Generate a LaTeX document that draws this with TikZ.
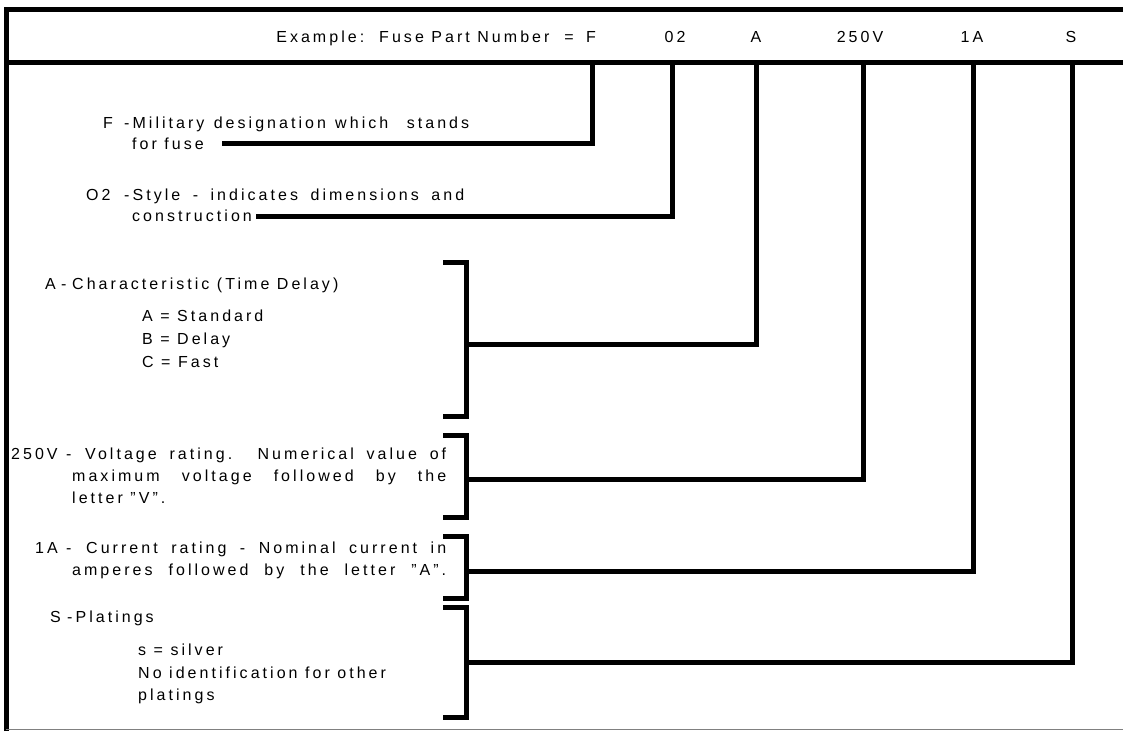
\documentclass[tikz,border=0pt]{standalone}
\usepackage{fontspec}
\setmainfont{Liberation Sans}[LetterSpace=19]
\usetikzlibrary{positioning}

\begin{document}
\begin{tikzpicture}[x=1pt,y=-1pt,
  txt/.style={anchor=base west,inner sep=0pt,font=\fontsize{16}{22}\selectfont},
  val/.style={anchor=base,inner sep=0pt,font=\fontsize{16}{22}\selectfont},
  rule/.style={line width=5pt},
  lead/.style={line width=5pt},
  brk/.style={line width=5pt}]
\useasboundingbox (0,0) rectangle (1123,731);
% frame
\draw[rule] (6,731) -- (6,9) -- (1123,9);
\draw[rule] (6,62) -- (1123,62);
\draw[gray,line width=1pt] (6,729) -- (1123,729);

% header
\node[val,anchor=base east] (hd) at (574,42) {Example:\ \ Fuse Part Number\ \ =};
\node[val] (vF) at (591,42) {F};
\node[val] (v02) at (675,42) {02};
\node[val] (vA) at (756,42) {A};
\node[val] (v250) at (860,42) {250V};
\node[val] (v1A) at (972,42) {1A};
\node[val] (vS) at (1071,42) {S};
\coordinate (tF) at (592,62);
\coordinate (t02) at (672,62);
\coordinate (tA) at (756,62);
\coordinate (t250) at (863,62);
\coordinate (t1A) at (973,62);
\coordinate (tS) at (1072,62);

% F and O2
\node[txt] (kF) at (103,128) {F};
\node[txt] (dF) at (124,128) {\makebox[345pt][s]{-Military designation which\ \ stands}};
\node[txt] (dF2) at (132,149) {for fuse};
\coordinate (eF) at (222,143);
\node[txt] (k02) at (86,200) {O2};
\node[txt] (d02) at (124,200) {\makebox[340pt][s]{-Style - indicates dimensions and}};
\node[txt] (d02b) at (132,221) {construction};
\coordinate (e02) at (256,216);

% A
\node[txt] (kA) at (45,289) {A};
\node[txt] (kAd) at (61,289) {-};
\node[txt] (dA) at (72,289) {Characteristic (Time Delay)};
\node[txt] (dA1) at (142,321) {A = Standard};
\node[txt] (dA2) at (142,344) {B = Delay};
\node[txt] (dA3) at (142,367) {C = Fast};

% 250V
\node[txt] (k250) at (11,459) {250V};
\node[txt] (k250d) at (66,459) {-};
\node[txt] (d250) at (85,459) {\makebox[361pt][s]{Voltage rating.\ \ Numerical value of}};
\node[txt] (d250b) at (72,481) {\makebox[374pt][s]{maximum voltage followed by the}};
\node[txt] (d250c) at (72,503) {letter "V".};

% 1A
\node[txt] (k1A) at (35,553) {1A};
\node[txt] (k1Ad) at (66,553) {-};
\node[txt] (d1A) at (86,553) {\makebox[360pt][s]{Current rating - Nominal current in}};
\node[txt] (d1Ab) at (72,575) {\makebox[374pt][s]{amperes followed by the letter "A".}};

% S
\node[txt] (kS) at (50,622) {S};
\node[txt] (dS) at (67,622) {-Platings};
\node[txt] (dS1) at (138,655) {s = silver};
\node[txt] (dS2) at (138,678) {No identification for other};
\node[txt] (dS3) at (138,700) {platings};

% brackets
\draw[brk] (443,262) -- (466,262) -- (466,416) -- (443,416);
\draw[brk] (443,435) -- (466,435) -- (466,517) -- (443,517);
\draw[brk] (443,536) -- (466,536) -- (466,598) -- (443,598);
\draw[brk] (443,607) -- (466,607) -- (466,717) -- (443,717);
\coordinate (bA) at (466,344);
\coordinate (b250) at (466,479);
\coordinate (b1A) at (466,571);
\coordinate (bS) at (466,662);

% leads
\draw[lead] (eF) -| (tF);
\draw[lead] (e02) -| (t02);
\draw[lead] (bA) -| (tA);
\draw[lead] (b250) -| (t250);
\draw[lead] (b1A) -| (t1A);
\draw[lead] (bS) -| (tS);
\end{tikzpicture}
\end{document}
